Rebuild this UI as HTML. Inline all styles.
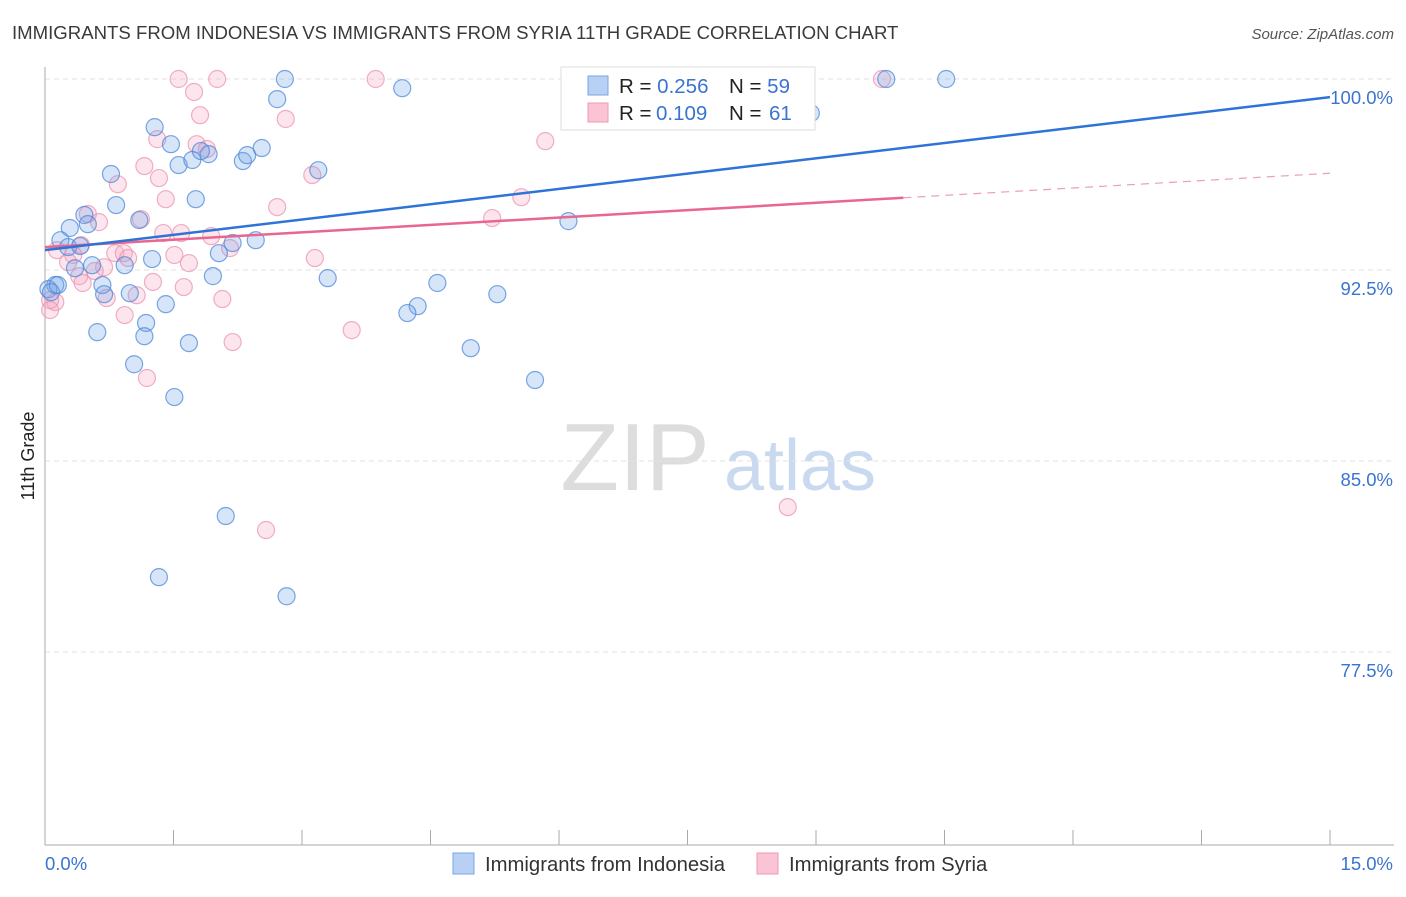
<!DOCTYPE html>
<html><head><meta charset="utf-8">
<style>
body{margin:0;background:#fff;font-family:"Liberation Sans",sans-serif;}
svg text{font-family:"Liberation Sans",sans-serif;}
</style></head>
<body>
<svg id="chart" width="1406" height="892" viewBox="0 0 1406 892" xmlns="http://www.w3.org/2000/svg">
<text x="12" y="39" font-size="18.6" fill="#3a3a3a">IMMIGRANTS FROM INDONESIA VS IMMIGRANTS FROM SYRIA 11TH GRADE CORRELATION CHART</text>
<text x="1394" y="39" font-size="15" fill="#555" font-style="italic" text-anchor="end">Source: ZipAtlas.com</text>
<text transform="translate(34,456) rotate(-90)" font-size="18" fill="#222" text-anchor="middle">11th Grade</text>
<g>
<text x="635" y="490" font-size="96" fill="#ddd" font-family="Liberation Serif" text-anchor="middle">ZIP</text>
<text x="800" y="490" font-size="72" fill="#c9d9ef" text-anchor="middle">atlas</text>
</g>
<g id="grid"></g>
<g id="axes"></g>
<g id="marks"></g>
<g>
<rect x="561" y="67" width="254" height="63" fill="#fff" stroke="#ddd"/>
<rect x="588" y="76" width="20" height="19" fill="#b7d0f3" stroke="#7aa6e6"/>
<rect x="588" y="103" width="20" height="19" fill="#fac4d4" stroke="#ef9ab5"/>
<text x="619" y="93" font-size="20.5" fill="#222">R = <tspan fill="#3a74d0">0.256</tspan><tspan x="729">N = </tspan><tspan fill="#3a74d0">59</tspan></text>
<text x="619" y="120" font-size="20.5" fill="#222">R = <tspan fill="#3a74d0" x="656">0.109</tspan><tspan x="729">N = </tspan><tspan fill="#3a74d0" x="769">61</tspan></text>
</g>
<g>
<rect x="453" y="853" width="21" height="21" fill="#b7d0f3" stroke="#7aa6e6"/>
<text x="485" y="871" font-size="20.3" fill="#333">Immigrants from Indonesia</text>
<rect x="757" y="853" width="21" height="21" fill="#fac4d4" stroke="#ef9ab5"/>
<text x="789" y="871" font-size="20.3" fill="#333">Immigrants from Syria</text>
</g>
</svg>
<script>
const yTicks=[100,92.5,85,77.5];
const yTickLabels=["100.0%","92.5%","85.0%","77.5%"];
const xTickCount=10;
const xTickLabels=["0.0%","15.0%"];
const blueX=[2.80,2.71,4.17,10.52,9.82,8.94,1.28,1.47,1.56,1.72,1.91,1.82,2.31,2.36,2.53,3.19,0.77,0.83,1.76,0.46,0.50,0.29,1.10,0.18,0.27,0.41,2.19,2.46,2.03,1.25,0.55,0.93,0.35,1.96,3.30,4.58,5.28,4.35,4.23,0.67,0.69,0.99,1.41,0.12,0.04,1.18,0.61,1.16,1.68,4.97,1.04,5.72,1.51,6.11,2.11,1.33,2.82,0.07,0.15];
const blueY=[100,99.21,99.64,100,100,98.66,98.11,97.44,96.62,96.82,97.05,97.17,96.78,97.01,97.29,96.42,96.27,95.05,95.28,94.66,94.30,94.15,94.46,93.67,93.40,93.44,93.56,93.67,93.16,92.93,92.69,92.69,92.57,92.26,92.18,91.99,91.55,91.08,90.81,91.91,91.55,91.59,91.16,91.91,91.75,90.42,90.06,89.90,89.63,89.43,88.80,88.18,87.51,94.42,82.84,80.44,79.69,91.63,91.91];
const pinkX=[1.56,2.01,3.86,9.77,1.74,1.81,2.81,1.31,5.84,1.77,1.89,1.16,3.12,0.85,1.33,5.56,1.41,2.71,1.12,0.63,0.50,5.22,1.38,1.59,1.94,2.16,0.14,0.42,0.33,0.27,0.82,0.92,0.97,1.51,1.68,0.69,1.26,1.62,3.15,0.58,0.40,0.44,1.07,0.72,2.07,0.12,0.06,0.93,3.58,2.19,1.19,2.58,8.67,0.06];
const pinkY=[100,100,100,100,99.49,98.58,98.43,97.64,97.56,97.44,97.25,96.58,96.23,95.87,96.11,95.36,95.28,94.97,94.50,94.38,94.70,94.54,93.95,93.95,93.83,93.36,93.28,93.48,93.09,92.81,93.16,93.16,92.97,93.09,92.77,92.61,92.03,91.83,92.97,92.46,92.26,91.99,91.51,91.40,91.36,91.24,91.32,90.73,90.14,89.67,88.26,82.29,83.19,90.93];
const blueTrend=[93.28,99.29];
const pinkTrend=[93.40,96.30];
const pinkSolidEnd=10.02;

const NS="http://www.w3.org/2000/svg";
const X=v=>45+v/15*1285;
const Y=v=>79+(100-v)*25.467;
function mk(tag,attrs,parent){const e=document.createElementNS(NS,tag);for(const k in attrs)e.setAttribute(k,attrs[k]);parent.appendChild(e);return e;}
const grid=document.getElementById('grid'),axes=document.getElementById('axes'),marks=document.getElementById('marks');
yTicks.forEach((t,i)=>{
 const l=mk('line',{x1:45,x2:1394,y1:Y(t),y2:Y(t),stroke:'#e2e2e2','stroke-dasharray':'5,4'},grid);
 
 
 const tx=mk('text',{x:1393,y:Y(t)+25,'font-size':18.5,fill:'#3a74d0','text-anchor':'end'},axes);
 tx.textContent=yTickLabels[i];
 
 
});
const ax=mk('line',{x1:45,x2:45,y1:67,y2:845,stroke:'#aaa'},axes);


const bx=mk('line',{x1:45,x2:1394,y1:845,y2:845,stroke:'#aaa'},axes);


for(let i=1;i<=xTickCount;i++){
 const t=mk('line',{x1:X(i*1.5),x2:X(i*1.5),y1:830,y2:845,stroke:'#aaa'},axes);
 
 
}
const xl0=mk('text',{x:45,y:870,'font-size':18.5,fill:'#3a74d0'},axes);xl0.textContent=xTickLabels[0];


const xl1=mk('text',{x:1393,y:870,'font-size':18.5,fill:'#3a74d0','text-anchor':'end'},axes);xl1.textContent=xTickLabels[1];


function pts(xs,ys,fill,stroke,name){xs.forEach((v,i)=>{
 const c=mk('circle',{cx:X(v),cy:Y(ys[i]),r:8.5,fill:fill,stroke:stroke,'stroke-width':1.2,'stroke-opacity':0.75},marks);
 
 
});}
pts(pinkX,pinkY,'rgba(245,160,190,0.28)','#eb94b1','point-syria');
pts(blueX,blueY,'rgba(110,160,230,0.28)','#4d88d9','point-indonesia');
const pl=mk('line',{x1:X(0),y1:Y(pinkTrend[0]),x2:X(pinkSolidEnd),y2:Y(pinkTrend[0]+(pinkTrend[1]-pinkTrend[0])*pinkSolidEnd/15),stroke:'#e8668f','stroke-width':2.5},marks);


const pd=mk('line',{x1:X(pinkSolidEnd),y1:Y(pinkTrend[0]+(pinkTrend[1]-pinkTrend[0])*pinkSolidEnd/15),x2:X(15),y2:Y(pinkTrend[1]),stroke:'#e8a0b8','stroke-width':1.2,'stroke-dasharray':'8,6'},marks);


const bl=mk('line',{x1:X(0),y1:Y(blueTrend[0]),x2:X(15),y2:Y(blueTrend[1]),stroke:'#2f73d6','stroke-width':2.5},marks);


</script>
</body></html>
